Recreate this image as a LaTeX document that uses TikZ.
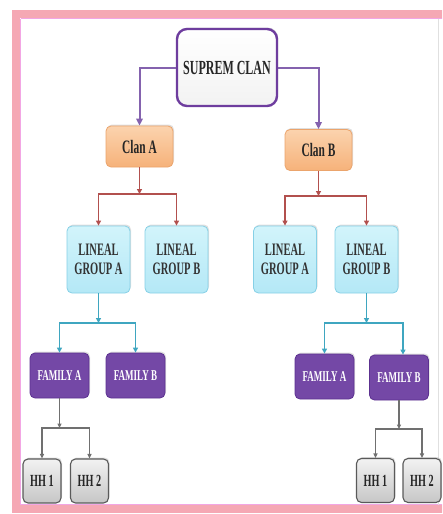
\documentclass[tikz,border=0pt]{standalone}
\usepackage{fontspec}
\setmainfont{Liberation Serif}[FakeStretch=0.6]
\usetikzlibrary{arrows.meta,shadows}

\definecolor{framepink}{HTML}{F5A8B4}
\definecolor{framelilac}{HTML}{F2A6E4}
\definecolor{suppurple}{HTML}{6E3D9E}
\definecolor{linkpurple}{HTML}{8462AE}
\definecolor{clantop}{HTML}{FBD3AE}
\definecolor{clanbot}{HTML}{F6B27A}
\definecolor{clanedge}{HTML}{EBA46C}
\definecolor{lintop}{HTML}{D2F4FB}
\definecolor{linbot}{HTML}{B4E8F6}
\definecolor{linedge}{HTML}{86D0E6}
\definecolor{linkred}{HTML}{B2504E}
\definecolor{linkteal}{HTML}{3FA6C0}
\definecolor{famfill}{HTML}{7448A6}
\definecolor{famedge}{HTML}{5C3190}
\definecolor{hhtop}{HTML}{F2F2F2}
\definecolor{hhbot}{HTML}{C6C6C6}
\definecolor{hhedge}{HTML}{5A5A5A}
\definecolor{linkgray}{HTML}{707070}

\tikzset{
  box/.style={rounded corners=5pt, inner sep=0pt, align=center,
    font=\bfseries, drop shadow={opacity=0.25, shadow xshift=1pt, shadow yshift=1.5pt}},
  topbox/.style={box, draw=suppurple, line width=2.4pt, rounded corners=10pt,
    top color=white, bottom color=hhtop, text=black!85,
    minimum width=100pt, minimum height=77pt,
    font=\bfseries\fontsize{20}{22}\selectfont},
  clanbox/.style={box, draw=clanedge, line width=0.8pt, top color=clantop, bottom color=clanbot,
    text=black!85, minimum width=67pt, minimum height=41pt,
    font=\bfseries\fontsize{19}{21}\selectfont},
  linbox/.style={box, draw=linedge, line width=0.8pt, top color=lintop, bottom color=linbot,
    text=black!80, minimum width=63pt, minimum height=67pt,
    font=\bfseries\fontsize{17.5}{19}\selectfont},
  fambox/.style={box, draw=famedge, line width=0.8pt, fill=famfill,
    text=white, minimum width=59pt, minimum height=45pt,
    font=\bfseries\fontsize{15}{17}\selectfont},
  hhbox/.style={box, draw=hhedge, line width=1.1pt, top color=hhtop, bottom color=hhbot,
    text=black!85, minimum width=38pt, minimum height=44pt,
    font=\bfseries\fontsize{17}{19}\selectfont},
  purplink/.style={draw=linkpurple, line width=2pt,
    -{Triangle[length=7pt,width=6.5pt]}},
  redlink/.style={draw=linkred, line width=1.7pt,
    -{Triangle[length=5pt,width=5pt]}},
  teallink/.style={draw=linkteal, line width=1.9pt,
    -{Triangle[length=5pt,width=5pt]}},
  graylink/.style={draw=linkgray, line width=1.1pt,
    -{Triangle[length=4.5pt,width=4pt]}}
}

\begin{document}
\begin{tikzpicture}[x=1pt,y=-1pt]
  \useasboundingbox (0,0) rectangle (442,514);
  \begin{scope}
    \clip (0,0) rectangle (442,514);
    % outer frame, its right side running off the page
    \draw[framepink, line width=8pt] (16,14) rectangle (452,509);
    \draw[framelilac, line width=1.2pt] (20.5,18.5) -- (20.5,504.5) -- (445,504.5);
    \draw[framelilac, line width=1.2pt] (20.5,18.5) -- (445,18.5);
    \draw[black!12, line width=0.6pt] (438.5,18.5) -- (438.5,504.5);
  \end{scope}

  % top level
  \node[topbox] (sup) at (227,67.5) {SUPREM CLAN};

  % clans
  \node[clanbox] (clanA) at (139.5,146.5) {Clan A};
  \node[clanbox] (clanB) at (318.5,150) {Clan B};

  % lineal groups
  \node[linbox] (lgAA) at (98.5,259.5) {LINEAL\\GROUP A};
  \node[linbox] (lgAB) at (176.5,259.5) {LINEAL\\GROUP B};
  \node[linbox] (lgBA) at (285,259.5) {LINEAL\\GROUP A};
  \node[linbox] (lgBB) at (366.5,259.5) {LINEAL\\GROUP B};

  % families
  \node[fambox] (famAA) at (59.5,375.5) {FAMILY A};
  \node[fambox] (famAB) at (135.5,375.5) {FAMILY B};
  \node[fambox] (famBA) at (324.5,376.5) {FAMILY A};
  \node[fambox] (famBB) at (399,377.5) {FAMILY B};

  % households
  \node[hhbox] (hhA1) at (42,481) {HH 1};
  \node[hhbox] (hhA2) at (89.5,481) {HH 2};
  \node[hhbox] (hhB1) at (375.5,480.5) {HH 1};
  \node[hhbox] (hhB2) at (422,480.5) {HH 2};

  % supreme clan to clans
  \draw[purplink] (sup.west) -| (clanA.north);
  \draw[purplink] (sup.east) -| (clanB.north);

  % clans to lineal groups
  \coordinate (jA) at (139.5,194);
  \coordinate (jB) at (318.5,196);
  \draw[redlink] (clanA.south) -- (jA);
  \draw[redlink] (jA) -| (lgAA.north);
  \draw[redlink] (jA) -| (lgAB.north);
  \draw[redlink] (clanB.south) -- (jB);
  \draw[redlink] (jB) -| (lgBA.north);
  \draw[redlink] (jB) -| (lgBB.north);

  % lineal groups to families
  \coordinate (jLA) at (98.5,323);
  \coordinate (jLB) at (366.5,323);
  \draw[teallink] (lgAA.south) -- (jLA);
  \draw[teallink] (jLA) -| (famAA.north);
  \draw[teallink] (jLA) -| (famAB.north);
  \draw[teallink] (lgBB.south) -- (jLB);
  \draw[teallink] (jLB) -| (famBA.north);
  \draw[teallink] (jLB) -| ([xshift=4pt]famBB.north);

  % families to households
  \coordinate (jFA) at (59.5,428);
  \coordinate (jFB) at (399,429);
  \draw[graylink] (famAA.south) -- (jFA);
  \draw[graylink] (jFA) -| (hhA1.north);
  \draw[graylink] (jFA) -| (hhA2.north);
  \draw[graylink] (famBB.south) -- (jFB);
  \draw[graylink] (jFB) -| (hhB1.north);
  \draw[graylink] (jFB) -| (hhB2.north);
\end{tikzpicture}
\end{document}
